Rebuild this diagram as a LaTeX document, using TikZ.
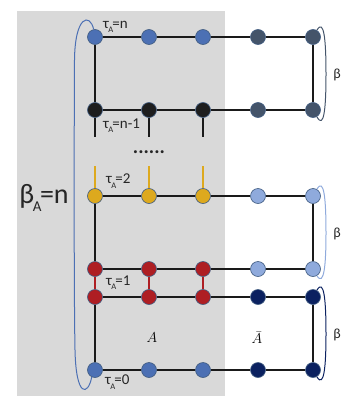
\documentclass[tikz,border=0pt]{standalone}
\usepackage{fontspec}
\setmainfont{Carlito}
\usetikzlibrary{positioning}

\definecolor{panel}{HTML}{D9D9D9}
\definecolor{bondc}{HTML}{1A1A1A}
\definecolor{rim}{HTML}{3F5B80}
\definecolor{txt}{HTML}{262626}
\definecolor{blueN}{HTML}{4C70B4}
\definecolor{slate}{HTML}{44546A}
\definecolor{blackN}{HTML}{1E1E1E}
\definecolor{gold}{HTML}{DDA91E}
\definecolor{lightB}{HTML}{8FAADC}
\definecolor{redN}{HTML}{AE1E23}
\definecolor{navy}{HTML}{0B2160}

\newcommand{\lowA}[1]{\kern-0.05em\raisebox{-0.6ex}{\fontsize{#1}{#1}\selectfont A}\kern-0.05em}
\newcommand{\tauA}{τ\lowA{8.5}}

\begin{document}
\begin{tikzpicture}[
  x=1pt, y=-1pt,
  dot/.style={circle, draw=rim, line width=0.6pt, minimum size=15pt, inner sep=0pt},
  bond/.style={draw=bondc, line width=1.8pt},
  rung/.style={line width=1.5pt},
  tlabel/.style={anchor=west, inner sep=0pt, text=txt, font=\fontsize{15}{17}\selectfont},
  blabel/.style={inner sep=0pt, text=txt, font=\fontsize{14}{16}\selectfont},
  loopline/.style={line width=1pt}
]
\useasboundingbox (0,0) rectangle (353,407);
\fill[panel] (17,11) rectangle (225,396);

% tau_A = n
\node[dot, fill=blueN] (n1) at (95,37) {};
\node[dot, fill=blueN] (n2) at (149,37) {};
\node[dot, fill=blueN] (n3) at (203,37) {};
\node[dot, fill=slate] (n4) at (258,37) {};
\node[dot, fill=slate] (n5) at (313,37) {};
% tau_A = n-1
\node[dot, fill=blackN] (m1) at (95,110) {};
\node[dot, fill=blackN] (m2) at (149,110) {};
\node[dot, fill=blackN] (m3) at (203,110) {};
\node[dot, fill=slate]  (m4) at (258,110) {};
\node[dot, fill=slate]  (m5) at (313,110) {};
% tau_A = 2
\node[dot, fill=gold]   (y1) at (95,196) {};
\node[dot, fill=gold]   (y2) at (149,196) {};
\node[dot, fill=gold]   (y3) at (203,196) {};
\node[dot, fill=lightB] (y4) at (258,196) {};
\node[dot, fill=lightB] (y5) at (313,196) {};
\node[dot, fill=redN]   (r1) at (95,269) {};
\node[dot, fill=redN]   (r2) at (149,269) {};
\node[dot, fill=redN]   (r3) at (203,269) {};
\node[dot, fill=lightB] (r4) at (258,269) {};
\node[dot, fill=lightB] (r5) at (313,269) {};
% tau_A = 1
\node[dot, fill=redN] (s1) at (95,297) {};
\node[dot, fill=redN] (s2) at (149,297) {};
\node[dot, fill=redN] (s3) at (203,297) {};
\node[dot, fill=navy] (s4) at (258,297) {};
\node[dot, fill=navy] (s5) at (313,297) {};
% tau_A = 0
\node[dot, fill=blueN] (z1) at (95,370) {};
\node[dot, fill=blueN] (z2) at (149,370) {};
\node[dot, fill=blueN] (z3) at (203,370) {};
\node[dot, fill=navy]  (z4) at (258,370) {};
\node[dot, fill=navy]  (z5) at (313,370) {};

\draw[bond] (n1)--(n2)--(n3)--(n4)--(n5);
\draw[bond] (m1)--(m2)--(m3)--(m4)--(m5);
\draw[bond] (n1)--(m1);
\draw[bond] (n5)--(m5);
\draw[bond] (y1)--(y2)--(y3)--(y4)--(y5);
\draw[bond] (r1)--(r2)--(r3)--(r4)--(r5);
\draw[bond] (y1)--(r1);
\draw[bond] (y5)--(r5);
\draw[bond] (s1)--(s2)--(s3)--(s4)--(s5);
\draw[bond] (z1)--(z2)--(z3)--(z4)--(z5);
\draw[bond] (s1)--(z1);
\draw[bond] (s5)--(z5);

% open ends
\coordinate (m1b) at (95,137);
\coordinate (m2b) at (149,137);
\coordinate (m3b) at (203,137);
\coordinate (y1t) at (95,166);
\coordinate (y2t) at (149,166);
\coordinate (y3t) at (203,166);
\draw[bond] (m1)--(m1b);
\draw[bond] (m2)--(m2b);
\draw[bond] (m3)--(m3b);
\draw[rung, gold] (y1)--(y1t);
\draw[rung, gold] (y2)--(y2t);
\draw[rung, gold] (y3)--(y3t);
\draw[rung, redN] (r1)--(s1);
\draw[rung, redN] (r2)--(s2);
\draw[rung, redN] (r3)--(s3);

% loops
\draw[loopline, blueN] (n1.100) .. controls (90,13) and (75,15) .. (74.5,60)
  .. controls (74,150) and (74,300) .. (75,350)
  .. controls (76,398) and (88,396) .. (z1.245);
\draw[loopline, slate] (n5.60) .. controls (324,18) and (326,40) .. (326,74)
  .. controls (326,108) and (324,130) .. (m5.-60);
\draw[loopline, lightB] (y5.60) .. controls (324,177) and (326,199) .. (326,233)
  .. controls (326,265) and (324,287) .. (r5.-60);
\draw[loopline, navy] (s5.60) .. controls (324,278) and (326,300) .. (326,334)
  .. controls (326,366) and (324,389) .. (z5.-60);

% labels
\node[tlabel] (tn)  at (103,27)  {\tauA=n};
\node[tlabel] (tn1) at (103,126) {\tauA=n-1};
\node[tlabel] (t2)  at (106,181) {\tauA=2};
\node[tlabel] (t1)  at (106,283) {\tauA=1};
\node[tlabel] (t0)  at (105,382) {\tauA=0};
\node[inner sep=0pt, text=txt, font=\fontsize{28}{30}\selectfont] (bA) at (44,198) {β\lowA{15}=n};
\node[inner sep=0pt, text=txt, font=\bfseries\fontsize{20}{20}\selectfont] (dots) at (149,152) {......};
\node[blabel] (b1) at (337,75)  {β};
\node[blabel] (b2) at (337,234) {β};
\node[blabel] (b3) at (337,335) {β};
\node[inner sep=0pt, font=\fontsize{14}{16}\selectfont] (lA) at (152,338) {$A$};
\node[inner sep=0pt, font=\fontsize{14}{16}\selectfont] (lAb) at (257,338) {$\bar{A}$};
\end{tikzpicture}
\end{document}
